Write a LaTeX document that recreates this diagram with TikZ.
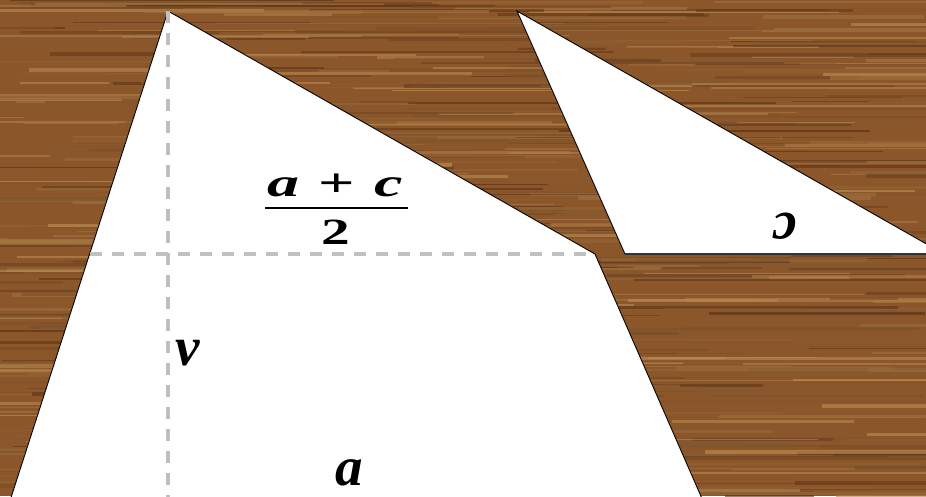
\documentclass[tikz,border=0pt]{standalone}
\usepackage{fontspec}
\setmainfont{Liberation Serif}
\definecolor{woodbase}{RGB}{138,86,42}
\definecolor{wooddark}{RGB}{85,45,18}
\definecolor{woodlight}{RGB}{196,146,86}
\definecolor{dashgray}{RGB}{192,192,192}
\tikzset{
  paper/.style={fill=white, draw=black, line width=0.9pt, line join=miter},
  helper/.style={draw=dashgray, line width=4pt, dash pattern=on 12pt off 10pt},
  bigvar/.style={font=\fontsize{55}{55}\selectfont\bfseries\itshape, inner sep=0pt, anchor=base},
}
\begin{document}
\begin{tikzpicture}[x=1pt,y=-1pt]
\useasboundingbox (0,0) rectangle (926,496);
\begin{scope}
\clip (0,0) rectangle (926,496);
% wood background
\fill[woodbase] (0,0) rectangle (926,496);
\pgfmathsetseed{7}
\foreach \k in {1,...,600} {
  \pgfmathsetmacro\yy{rnd*500}
  \pgfmathsetmacro\xx{rnd*1000-120}
  \pgfmathsetmacro\ll{60+rnd*320}
  \pgfmathtruncatemacro\mx{rnd*100}
  \pgfmathsetmacro\ww{0.8+rnd*3}
  \draw[line width=\ww pt, color=wooddark!\mx!woodlight, opacity=0.6] (\xx,\yy) -- ++(\ll,0);
}
% big piece (triangle with cut)
\path[paper] (168,11) -- (595,254) -- (707,510) -- (7,510) -- cycle;
% small cut-off triangle
\path[paper] (517,11) -- (625,254) -- (944,254) -- cycle;
\draw[black!80, line width=2pt] (625,254) -- (944,254);
% dashed helpers
\coordinate (apex) at (168,11);
\coordinate (foot) at (168,500);
\coordinate (midl) at (90,254);
\coordinate (midr) at (594,254);
\draw[helper] (apex) -- (foot);
\draw[helper] (midl) -- (midr);
\end{scope}
% labels
\node[inner sep=0pt, anchor=base] (num) at (335,196)
  {\scalebox{1.6}[1]{\fontsize{40}{40}\selectfont\bfseries\itshape a\hspace{0.3em}\upshape+\hspace{0.3em}\itshape c}};
\coordinate (barl) at (265,208);
\coordinate (barr) at (408,208);
\draw[black, line width=2pt] (barl) -- (barr);
\node[inner sep=0pt, anchor=base] (den) at (336,244)
  {\scalebox{1.55}[1]{\fontsize{37}{37}\selectfont\bfseries 2}};
\node[bigvar] (v) at (188,365) {v};
\node[bigvar] (a) at (349,485) {a};
\node[bigvar, rotate=180] (c) at (784,213) {c};
\end{tikzpicture}
\end{document}
